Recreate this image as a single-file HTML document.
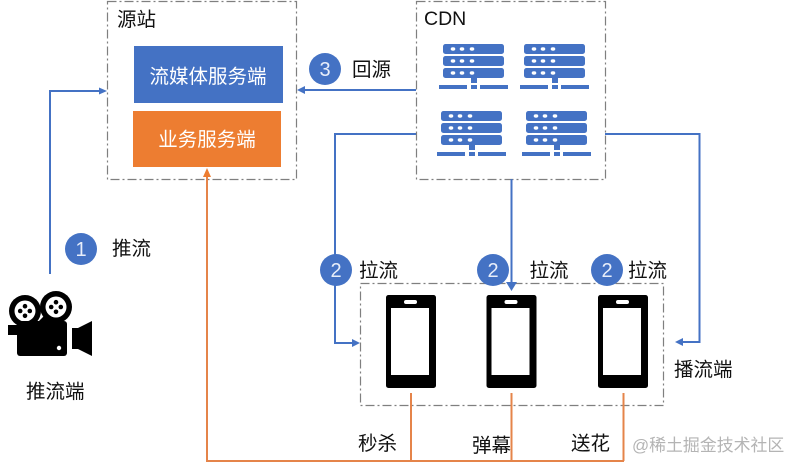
<!DOCTYPE html>
<html><head><meta charset="utf-8"><style>
html,body{margin:0;padding:0;background:#fff}
svg{display:block;filter:blur(0.35px)}
text{font-family:"Liberation Sans","Noto Sans CJK SC",sans-serif;fill:#111}
</style></head><body>
<svg width="798" height="469" viewBox="0 0 798 469" xmlns="http://www.w3.org/2000/svg">
<defs>
<g id="srv">
<rect x="443" y="44" width="61" height="10" rx="2.500" fill="#4472c4"/>
<rect x="443" y="56" width="61" height="10" rx="2.500" fill="#4472c4"/>
<rect x="443" y="68" width="61" height="10" rx="2.500" fill="#4472c4"/>
<g fill="#fff"><ellipse cx="453" cy="49" rx="2.300" ry="1.700"/><ellipse cx="462" cy="49" rx="2.300" ry="1.700"/><ellipse cx="472" cy="49" rx="2.300" ry="1.700"/>
<ellipse cx="453" cy="61" rx="2.300" ry="1.700"/><ellipse cx="462" cy="61" rx="2.300" ry="1.700"/><ellipse cx="472" cy="61" rx="2.300" ry="1.700"/>
<ellipse cx="453" cy="73" rx="2.300" ry="1.700"/><ellipse cx="462" cy="73" rx="2.300" ry="1.700"/><ellipse cx="472" cy="73" rx="2.300" ry="1.700"/></g>
<rect x="471" y="78" width="6" height="5" fill="#4472c4"/>
<rect x="439" y="85" width="28" height="4" fill="#4472c4"/>
<rect x="471" y="85" width="6" height="4" fill="#4472c4"/>
<rect x="480" y="85" width="28" height="4" fill="#4472c4"/>
</g>
<g id="ph">
<rect x="386" y="295" width="50" height="93" rx="2.500" fill="#000"/>
<rect x="391" y="308" width="38" height="67" fill="#fff"/>
<rect x="404" y="300" width="13" height="4" rx="2" fill="#fff"/>
</g>
<g id="reel">
<circle r="16" fill="#000"/><circle r="10.500" fill="#fff"/>
<circle cx="0" cy="-4.800" r="2.300" fill="#000"/><circle cx="0" cy="4.800" r="2.300" fill="#000"/>
<circle cx="-4.800" cy="0" r="2.300" fill="#000"/><circle cx="4.800" cy="0" r="2.300" fill="#000"/>
</g>
</defs>

<!-- dashed containers -->
<g fill="none" stroke="#7f7f7f" stroke-width="1.200" stroke-dasharray="9 3 2 3">
<rect x="107.500" y="1.500" width="189" height="178"/>
<rect x="416.500" y="1.500" width="189" height="178"/>
<rect x="360.500" y="283.500" width="303" height="122"/>
</g>

<!-- source boxes -->
<rect x="134" y="46" width="149" height="57" fill="#4472c4"/>
<rect x="133" y="111" width="148" height="56" fill="#ed7d31"/>
<text x="208" y="83" font-size="19.500" text-anchor="middle" style="fill:#fff">流媒体服务端</text>
<text x="207" y="146" font-size="19.500" text-anchor="middle" style="fill:#fff">业务服务端</text>
<text x="117" y="26" font-size="19.500">源站</text>
<text x="424" y="25" font-size="19.500">CDN</text>

<!-- servers -->
<use href="#srv"/>
<use href="#srv" x="81"/>
<use href="#srv" x="-2" y="67"/>
<use href="#srv" x="83" y="67"/>

<!-- phones -->
<use href="#ph"/>
<use href="#ph" x="100.500"/>
<use href="#ph" x="212"/>

<!-- blue connectors -->
<g fill="none" stroke="#4472c4" stroke-width="2">
<path d="M50 274V91H101"/>
<path d="M416 90H303"/>
<path d="M416 134H335V343H354"/>
<path d="M511.500 179V285"/>
<path d="M605 134H699.500V342H682"/>
</g>
<g fill="#4472c4">
<polygon points="107,91 99,87.500 99,94.500"/>
<polygon points="297,90 305,86 305,94"/>
<polygon points="360,343 352,339 352,347"/>
<polygon points="511.500,291 506,282 517,282"/>
<polygon points="675,342 683,338 683,346"/>
</g>

<!-- orange connectors -->
<g fill="none" stroke="#e5844a" stroke-width="2">
<path d="M207 175V461H624"/>
<path d="M411 393V461"/>
<path d="M511.500 393V461"/>
<path d="M623.500 393V461"/>
</g>
<polygon points="207,168 203,177 211,177" fill="#ed7d31"/>

<!-- numbered circles -->
<g fill="#4472c4">
<circle cx="81" cy="249" r="16"/>
<circle cx="325" cy="69" r="16"/>
<circle cx="336" cy="270" r="16"/>
<circle cx="493" cy="270" r="16"/>
<circle cx="607" cy="270" r="16"/>
</g>
<g font-size="20" text-anchor="middle">
<text x="81" y="256" style="fill:#e8eefa">1</text>
<text x="325" y="76" style="fill:#e8eefa">3</text>
<text x="336" y="277" style="fill:#e8eefa">2</text>
<text x="493" y="277" style="fill:#e8eefa">2</text>
<text x="607" y="277" style="fill:#e8eefa">2</text>
</g>

<!-- labels -->
<g font-size="19.500">
<text x="112" y="255">推流</text>
<text x="352" y="76">回源</text>
<text x="359" y="277">拉流</text>
<text x="529.500" y="277">拉流</text>
<text x="628" y="277">拉流</text>
<text x="674" y="376">播流端</text>
<text x="26" y="398">推流端</text>
<text x="358" y="450">秒杀</text>
<text x="472" y="452">弹幕</text>
<text x="571" y="450">送花</text>
</g>
<text x="632" y="451" font-size="16.900" style="fill:#b4b4b4">@稀土掘金技术社区</text>

<!-- camera -->
<use href="#reel" x="25" y="311"/>
<use href="#reel" x="56" y="307"/>
<rect x="17" y="321" width="50" height="35" rx="3" fill="#000"/>
<polygon points="38,322 46,314 52,322" fill="#000"/>
<rect x="8" y="325" width="9" height="10" fill="#000"/>
<polygon points="72,328 78,328 92,321 92,356 78,349 72,349" fill="#000"/>
<circle cx="59" cy="348" r="2.200" fill="#fff"/>
</svg>
</body></html>
